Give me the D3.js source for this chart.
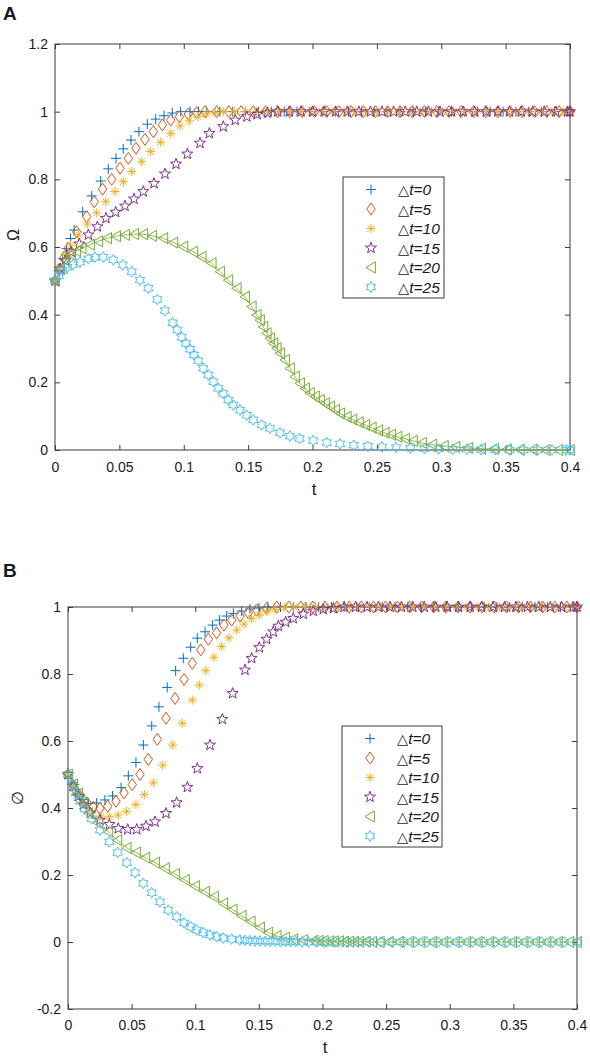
<!DOCTYPE html>
<html>
<head>
<meta charset="utf-8">
<script src="https://cdn.jsdelivr.net/npm/d3@7"></script>
<style>
  body { margin: 0; background: #fff; }
  svg text { font-family: "Liberation Sans", Arial, sans-serif; fill: #1a1a1a; }
</style>
</head>
<body>
<div id="app"></div>
<script>
// ---- data ----
const seriesNames = ["△t=0", "△t=5", "△t=10", "△t=15", "△t=20", "△t=25"];
const xTicks = [0, 0.05, 0.1, 0.15, 0.2, 0.25, 0.3, 0.35, 0.4];
const yTicksA = [0, 0.2, 0.4, 0.6, 0.8, 1, 1.2];
const yTicksB = [-0.2, 0, 0.2, 0.4, 0.6, 0.8, 1];

// panel A: Omega
const omega0 = [[0,0.5],[0.003,0.53],[0.006,0.565],[0.009,0.595],[0.012,0.625],[0.0148,0.65],[0.0215,0.704],[0.0285,0.751],[0.0355,0.795],[0.0414,0.831],[0.0474,0.862],[0.053,0.89],[0.059,0.916],[0.0652,0.941],[0.0717,0.963],[0.0782,0.978],[0.0847,0.988],[0.0911,0.996],[0.0976,1],[0.1049,1],[0.1114,1],[0.1178,1]];
const omega5 = [[0,0.5],[0.0035,0.535],[0.007,0.57],[0.0103,0.596],[0.0168,0.645],[0.0246,0.69],[0.0305,0.734],[0.037,0.771],[0.044,0.8],[0.0505,0.833],[0.057,0.862],[0.0629,0.892],[0.0699,0.918],[0.0764,0.941],[0.0834,0.961],[0.0899,0.975],[0.0966,0.985],[0.1036,0.993],[0.11,0.997],[0.1165,1]];
const omega10 = [[0,0.5],[0.004,0.54],[0.008,0.575],[0.012,0.605],[0.0181,0.636],[0.0251,0.668],[0.0324,0.701],[0.0394,0.734],[0.0466,0.764],[0.0531,0.793],[0.0596,0.823],[0.0673,0.852],[0.0743,0.882],[0.0821,0.909],[0.0899,0.936],[0.0971,0.958],[0.1043,0.973],[0.1113,0.985],[0.1178,0.993],[0.1245,0.997],[0.131,1]];
const omega15 = [[0,0.5],[0.004,0.535],[0.008,0.56],[0.0125,0.585],[0.0189,0.609],[0.0259,0.636],[0.0329,0.66],[0.0396,0.685],[0.0471,0.703],[0.0544,0.721],[0.0614,0.742],[0.0686,0.764],[0.0769,0.788],[0.0854,0.816],[0.094,0.845],[0.1028,0.875],[0.1126,0.907],[0.1199,0.936],[0.1307,0.956],[0.14,0.975],[0.149,0.985],[0.157,0.992],[0.165,0.997],[0.173,1]];
const omega20 = [[0,0.5],[0.004,0.535],[0.008,0.56],[0.0125,0.578],[0.0165,0.588],[0.0207,0.596],[0.0272,0.607],[0.0336,0.617],[0.0405,0.626],[0.0475,0.632],[0.0545,0.636],[0.0615,0.638],[0.0685,0.638],[0.0755,0.633],[0.0841,0.626],[0.0919,0.613],[0.0997,0.601],[0.1074,0.586],[0.1139,0.571],[0.1217,0.552],[0.1282,0.527],[0.1346,0.502],[0.1411,0.478],[0.1476,0.453],[0.1528,0.424],[0.1566,0.399],[0.1592,0.384],[0.1618,0.364],[0.1644,0.345],[0.167,0.33],[0.1696,0.315],[0.1722,0.301],[0.1748,0.286],[0.1786,0.266],[0.1825,0.241],[0.1864,0.217],[0.1903,0.197],[0.1942,0.182],[0.198,0.168],[0.2019,0.158],[0.2058,0.148],[0.2097,0.138],[0.2136,0.128],[0.2175,0.118],[0.2214,0.108],[0.2266,0.098],[0.231,0.09],[0.236,0.082],[0.241,0.074],[0.246,0.066],[0.251,0.058],[0.256,0.051],[0.261,0.045],[0.266,0.039],[0.272,0.033],[0.278,0.027],[0.285,0.021],[0.293,0.016],[0.302,0.012],[0.311,0.009],[0.321,0.006],[0.331,0.004],[0.341,0.003],[0.351,0.002],[0.361,0.001],[0.371,0.001],[0.381,0],[0.391,0],[0.4,0]];
const omega25 = [[0,0.5],[0.003,0.515],[0.006,0.53],[0.0095,0.54],[0.014,0.548],[0.0194,0.555],[0.026,0.565],[0.031,0.57],[0.0375,0.57],[0.0453,0.562],[0.0526,0.547],[0.0596,0.527],[0.066,0.502],[0.0725,0.478],[0.0795,0.445],[0.0854,0.412],[0.0914,0.376],[0.095,0.355],[0.0984,0.333],[0.1017,0.315],[0.1049,0.298],[0.108,0.281],[0.1113,0.264],[0.1152,0.241],[0.1191,0.222],[0.123,0.202],[0.1269,0.182],[0.1307,0.167],[0.1346,0.148],[0.1385,0.133],[0.1437,0.118],[0.1489,0.103],[0.154,0.089],[0.1605,0.074],[0.167,0.064],[0.1748,0.051],[0.1825,0.041],[0.19,0.034],[0.2006,0.028],[0.211,0.022],[0.2214,0.018],[0.232,0.014],[0.243,0.011],[0.254,0.009],[0.265,0.007],[0.276,0.005],[0.287,0.004],[0.298,0.003],[0.309,0.002],[0.32,0.002],[0.331,0.001],[0.342,0.001],[0.353,0],[0.364,0],[0.375,0],[0.386,0],[0.397,0],[0.4,0]];
// times at which the rising curves sit on the level 1
const omega0Top = [0.128,0.138,0.148,0.158,0.168,0.178,0.188,0.198,0.208,0.218,0.228,0.238,0.248,0.258,0.268,0.278,0.288,0.298,0.308,0.318,0.328,0.338,0.348,0.358,0.368,0.378,0.388,0.398,0.4];
const omega5Top = [0.1255,0.135,0.1445,0.154,0.1635,0.173,0.1825,0.192,0.2015,0.211,0.2205,0.23,0.2395,0.249,0.2585,0.268,0.2775,0.287,0.2965,0.306,0.3155,0.325,0.3345,0.344,0.3535,0.363,0.3725,0.382,0.3915,0.4];
const omega10Top = [0.1395,0.148,0.1565,0.165,0.1735,0.182,0.1905,0.199,0.2075,0.216,0.2245,0.233,0.2415,0.25,0.2585,0.267,0.2755,0.284,0.2925,0.301,0.3095,0.318,0.3265,0.335,0.3435,0.352,0.3605,0.369,0.3775,0.386,0.3945,0.4];
const omega15Top = [0.182,0.191,0.2,0.209,0.218,0.227,0.236,0.245,0.254,0.263,0.272,0.281,0.29,0.299,0.308,0.317,0.326,0.335,0.344,0.353,0.362,0.371,0.38,0.389,0.398,0.4];

// panel B: phi
const phi0 = [[0,0.5],[0.003,0.475],[0.006,0.455],[0.009,0.44],[0.012,0.425],[0.016,0.414],[0.0225,0.415],[0.029,0.424],[0.035,0.436],[0.0417,0.461],[0.0474,0.496],[0.0534,0.536],[0.0592,0.588],[0.0658,0.645],[0.0715,0.702],[0.078,0.76],[0.0846,0.81],[0.0906,0.847],[0.0964,0.88],[0.1016,0.907],[0.1077,0.926],[0.1137,0.946],[0.119,0.961],[0.1247,0.973],[0.13,0.981],[0.1365,0.988],[0.143,0.994],[0.15,0.997],[0.157,1]];
const phi5 = [[0,0.5],[0.0035,0.47],[0.007,0.448],[0.011,0.43],[0.015,0.415],[0.02,0.403],[0.0251,0.399],[0.0312,0.405],[0.0377,0.42],[0.044,0.445],[0.0505,0.47],[0.0566,0.5],[0.0631,0.545],[0.0702,0.605],[0.077,0.668],[0.0841,0.727],[0.0912,0.784],[0.0977,0.832],[0.1043,0.872],[0.1103,0.904],[0.1168,0.923],[0.1226,0.946],[0.1286,0.961],[0.1352,0.973],[0.1417,0.983],[0.1483,0.991],[0.156,0.996],[0.164,1]];
const phi10 = [[0,0.5],[0.004,0.465],[0.008,0.44],[0.0125,0.41],[0.0186,0.384],[0.0257,0.376],[0.0325,0.374],[0.0395,0.379],[0.0461,0.39],[0.0534,0.41],[0.06,0.44],[0.067,0.475],[0.0744,0.528],[0.0823,0.588],[0.0898,0.653],[0.0977,0.722],[0.1032,0.767],[0.1084,0.81],[0.1147,0.85],[0.1208,0.882],[0.1265,0.908],[0.1326,0.931],[0.1383,0.949],[0.1443,0.966],[0.1503,0.976],[0.156,0.986],[0.1627,0.993],[0.17,0.998],[0.1775,1]];
const phi15 = [[0,0.5],[0.004,0.465],[0.008,0.435],[0.012,0.41],[0.0175,0.385],[0.0251,0.364],[0.0325,0.351],[0.0395,0.339],[0.0469,0.336],[0.054,0.336],[0.0613,0.346],[0.0684,0.359],[0.077,0.384],[0.0854,0.416],[0.0938,0.462],[0.1016,0.518],[0.1116,0.588],[0.1213,0.665],[0.1294,0.742],[0.1391,0.812],[0.1443,0.847],[0.1503,0.879],[0.1561,0.904],[0.1613,0.926],[0.1653,0.943],[0.171,0.955],[0.177,0.966],[0.1849,0.979],[0.1928,0.988],[0.2006,0.993],[0.2085,0.996],[0.217,1]];
const phi20 = [[0,0.5],[0.004,0.47],[0.008,0.443],[0.012,0.415],[0.016,0.384],[0.0238,0.355],[0.0317,0.329],[0.0388,0.304],[0.0461,0.281],[0.0534,0.267],[0.0608,0.252],[0.0684,0.237],[0.0762,0.22],[0.0841,0.203],[0.0919,0.185],[0.0998,0.167],[0.1077,0.15],[0.1147,0.135],[0.122,0.115],[0.1294,0.097],[0.1365,0.078],[0.1436,0.061],[0.1509,0.043],[0.1574,0.028],[0.164,0.018],[0.1705,0.013],[0.177,0.008],[0.1849,0.006],[0.193,0.004],[0.197,0.003],[0.201,0.003],[0.205,0.002],[0.209,0.002],[0.213,0.002],[0.217,0.001],[0.221,0.001],[0.225,0.001],[0.229,0.001],[0.234,0.001],[0.239,0],[0.245,0],[0.252,0],[0.26,0],[0.268,0],[0.277,0],[0.286,0],[0.295,0],[0.304,0],[0.313,0],[0.322,0],[0.331,0],[0.34,0],[0.349,0],[0.358,0],[0.367,0],[0.376,0],[0.385,0],[0.394,0],[0.4,0]];
const phi25 = [[0,0.5],[0.003,0.47],[0.006,0.445],[0.0095,0.42],[0.013,0.398],[0.0186,0.368],[0.0251,0.334],[0.0325,0.299],[0.039,0.267],[0.0461,0.237],[0.0527,0.207],[0.0592,0.175],[0.0658,0.147],[0.0723,0.12],[0.0788,0.095],[0.0854,0.075],[0.0912,0.057],[0.0964,0.046],[0.1011,0.036],[0.1063,0.028],[0.1116,0.021],[0.1168,0.016],[0.122,0.012],[0.1286,0.009],[0.135,0.006],[0.139,0.005],[0.143,0.004],[0.147,0.003],[0.151,0.003],[0.155,0.002],[0.159,0.002],[0.163,0.002],[0.167,0.001],[0.171,0.001],[0.175,0.001],[0.179,0.001],[0.184,0],[0.189,0],[0.195,0],[0.202,0],[0.21,0],[0.219,0],[0.228,0],[0.237,0],[0.246,0],[0.255,0],[0.264,0],[0.273,0],[0.282,0],[0.291,0],[0.3,0],[0.309,0],[0.318,0],[0.327,0],[0.336,0],[0.345,0],[0.354,0],[0.363,0],[0.372,0],[0.381,0],[0.39,0],[0.4,0]];
const phi0Top = [0.167,0.177,0.187,0.197,0.207,0.217,0.227,0.237,0.247,0.257,0.267,0.277,0.287,0.297,0.307,0.317,0.327,0.337,0.347,0.357,0.367,0.377,0.387,0.397,0.4];
const phi5Top = [0.1735,0.183,0.1925,0.202,0.2115,0.221,0.2305,0.24,0.2495,0.259,0.2685,0.278,0.2875,0.297,0.3065,0.316,0.3255,0.335,0.3445,0.354,0.3635,0.373,0.3825,0.392,0.4];
const phi10Top = [0.186,0.1945,0.203,0.2115,0.22,0.2285,0.237,0.2455,0.254,0.2625,0.271,0.2795,0.288,0.2965,0.305,0.3135,0.322,0.3305,0.339,0.3475,0.356,0.3645,0.373,0.3815,0.39,0.3985,0.4];
const phi15Top = [0.226,0.235,0.244,0.253,0.262,0.271,0.28,0.289,0.298,0.307,0.316,0.325,0.334,0.343,0.352,0.361,0.37,0.379,0.388,0.397,0.4];

// ---- drawing ----
const colors = ["#0072BD", "#D95319", "#EDB120", "#7E2F8E", "#77AC30", "#4DBEEE"];
const markers = ["plus", "diamond", "asterisk", "pentagram", "triangle", "hexagram"];

function starPath(n, outer, inner) {
  let p = [];
  for (let i = 0; i < 2 * n; i++) {
    const r = i % 2 === 0 ? outer : inner;
    const a = -Math.PI / 2 + (i * Math.PI) / n;
    p.push([r * Math.cos(a), r * Math.sin(a)]);
  }
  return "M" + p.map(d => d[0].toFixed(2) + "," + d[1].toFixed(2)).join("L") + "Z";
}

const markerPaths = {
  plus: "M-5,0H5M0,-5V5",
  diamond: "M0,-6L4.2,0L0,6L-4.2,0Z",
  asterisk: "M-4.6,0H4.6M0,-4.6V4.6M-3.3,-3.3L3.3,3.3M-3.3,3.3L3.3,-3.3",
  pentagram: starPath(5, 5.8, 2.4),
  triangle: "M-5,0L4.4,-5.6L4.4,5.6Z",
  hexagram: starPath(6, 5.4, 3.1)
};

const svg = d3.select("#app").append("svg")
  .attr("width", 590)
  .attr("height", 1057);

function withTop(points, tops) {
  return points.concat(tops.map(t => [t, 1]));
}

function drawPanel(cfg) {
  const x = d3.scaleLinear().domain([0, 0.4]).range([cfg.left, cfg.right]);
  const y = d3.scaleLinear().domain(cfg.yDomain).range([cfg.bottom, cfg.top]);
  const g = svg.append("g");

  // box
  g.append("rect")
    .attr("x", cfg.left).attr("y", cfg.top)
    .attr("width", cfg.right - cfg.left).attr("height", cfg.bottom - cfg.top)
    .attr("fill", "none").attr("stroke", "#3a3a3a").attr("stroke-width", 1);

  const fmt = d => String(d);
  const axes = [
    [d3.axisBottom(x).tickValues(xTicks).tickFormat(fmt).tickPadding(cfg.xPad), `translate(0,${cfg.bottom})`],
    [d3.axisTop(x).tickValues(xTicks).tickFormat(""), `translate(0,${cfg.top})`],
    [d3.axisLeft(y).tickValues(cfg.yTicks).tickFormat(fmt).tickPadding(7), `translate(${cfg.left},0)`],
    [d3.axisRight(y).tickValues(cfg.yTicks).tickFormat(""), `translate(${cfg.right},0)`]
  ];
  axes.forEach(([ax, tr]) => {
    const a = g.append("g").attr("transform", tr)
      .call(ax.tickSizeInner(-5).tickSizeOuter(0));
    a.select(".domain").remove();
    a.selectAll("line").attr("stroke", "#3a3a3a");
    a.selectAll("text").attr("font-size", 14).attr("fill", "#1a1a1a")
      .attr("font-family", "'Liberation Sans', Arial, sans-serif");
  });

  const line = d3.line().x(d => x(d[0])).y(d => y(d[1]));
  cfg.series.forEach((pts, i) => {
    const sg = g.append("g");
    // only the green curve shows a thin connecting line
    if (i === 4) {
      sg.append("path").attr("d", line(pts))
        .attr("fill", "none").attr("stroke", colors[i]).attr("stroke-width", 0.8);
    }
    sg.selectAll("path.m").data(pts).join("path")
      .attr("class", "m")
      .attr("d", markerPaths[markers[i]])
      .attr("transform", d => `translate(${x(d[0])},${y(d[1])})`)
      .attr("fill", "none").attr("stroke", colors[i]).attr("stroke-width", 1);
  });

  // legend
  const lg = g.append("g");
  lg.append("rect")
    .attr("x", cfg.legend.x).attr("y", cfg.legend.y)
    .attr("width", cfg.legend.w).attr("height", cfg.legend.h)
    .attr("fill", "#fff").attr("stroke", "#3a3a3a").attr("stroke-width", 1);
  seriesNames.forEach((name, i) => {
    const cy = cfg.legend.y + 12.5 + i * 19.5;
    lg.append("path").attr("d", markerPaths[markers[i]])
      .attr("transform", `translate(${cfg.legend.x + 28},${cy})`)
      .attr("fill", "none").attr("stroke", colors[i]).attr("stroke-width", 1);
    const t = lg.append("text")
      .attr("x", cfg.legend.x + 55).attr("y", cy + 5.5)
      .attr("font-size", 15.5).attr("font-style", "italic");
    t.append("tspan").attr("font-family", "'DejaVu Sans', sans-serif")
      .attr("font-style", "normal").attr("font-size", 14.5).text(name.slice(0, 1));
    t.append("tspan").text(name.slice(1));
  });

  // labels
  g.append("text").attr("x", cfg.panelX).attr("y", cfg.panelY)
    .attr("font-size", 19).attr("font-weight", "bold").text(cfg.panel);
  g.append("text")
    .attr("transform", `translate(${cfg.yLabelX},${(cfg.top + cfg.bottom) / 2 + cfg.yLabelShift}) rotate(-90)`)
    .attr("text-anchor", "middle").attr("font-size", 16)
    .attr("font-family", "'DejaVu Sans', sans-serif")
    .text(cfg.yLabel);
  g.append("text").attr("x", cfg.tX).attr("y", cfg.tY)
    .attr("text-anchor", "middle").attr("font-size", 17).text("t");
}

drawPanel({
  panel: "A", panelX: 3, panelY: 20,
  left: 55, right: 570, top: 44, bottom: 450,
  yDomain: [0, 1.2], yTicks: yTicksA, xPad: 12,
  series: [withTop(omega0, omega0Top), withTop(omega5, omega5Top), withTop(omega10, omega10Top),
           withTop(omega15, omega15Top), omega20, omega25],
  legend: { x: 343, y: 177, w: 101, h: 121 },
  yLabel: "Ω", yLabelX: 19, yLabelShift: -12,
  tX: 314, tY: 495
});

drawPanel({
  panel: "B", panelX: 3, panelY: 577,
  left: 68, right: 577, top: 607, bottom: 1009,
  yDomain: [-0.2, 1], yTicks: yTicksB, xPad: 11,
  series: [withTop(phi0, phi0Top), withTop(phi5, phi5Top), withTop(phi10, phi10Top),
           withTop(phi15, phi15Top), phi20, phi25],
  legend: { x: 342, y: 726, w: 100, h: 121 },
  yLabel: "∅", yLabelX: 23, yLabelShift: -10,
  tX: 325, tY: 1053
});
</script>
</body>
</html>
